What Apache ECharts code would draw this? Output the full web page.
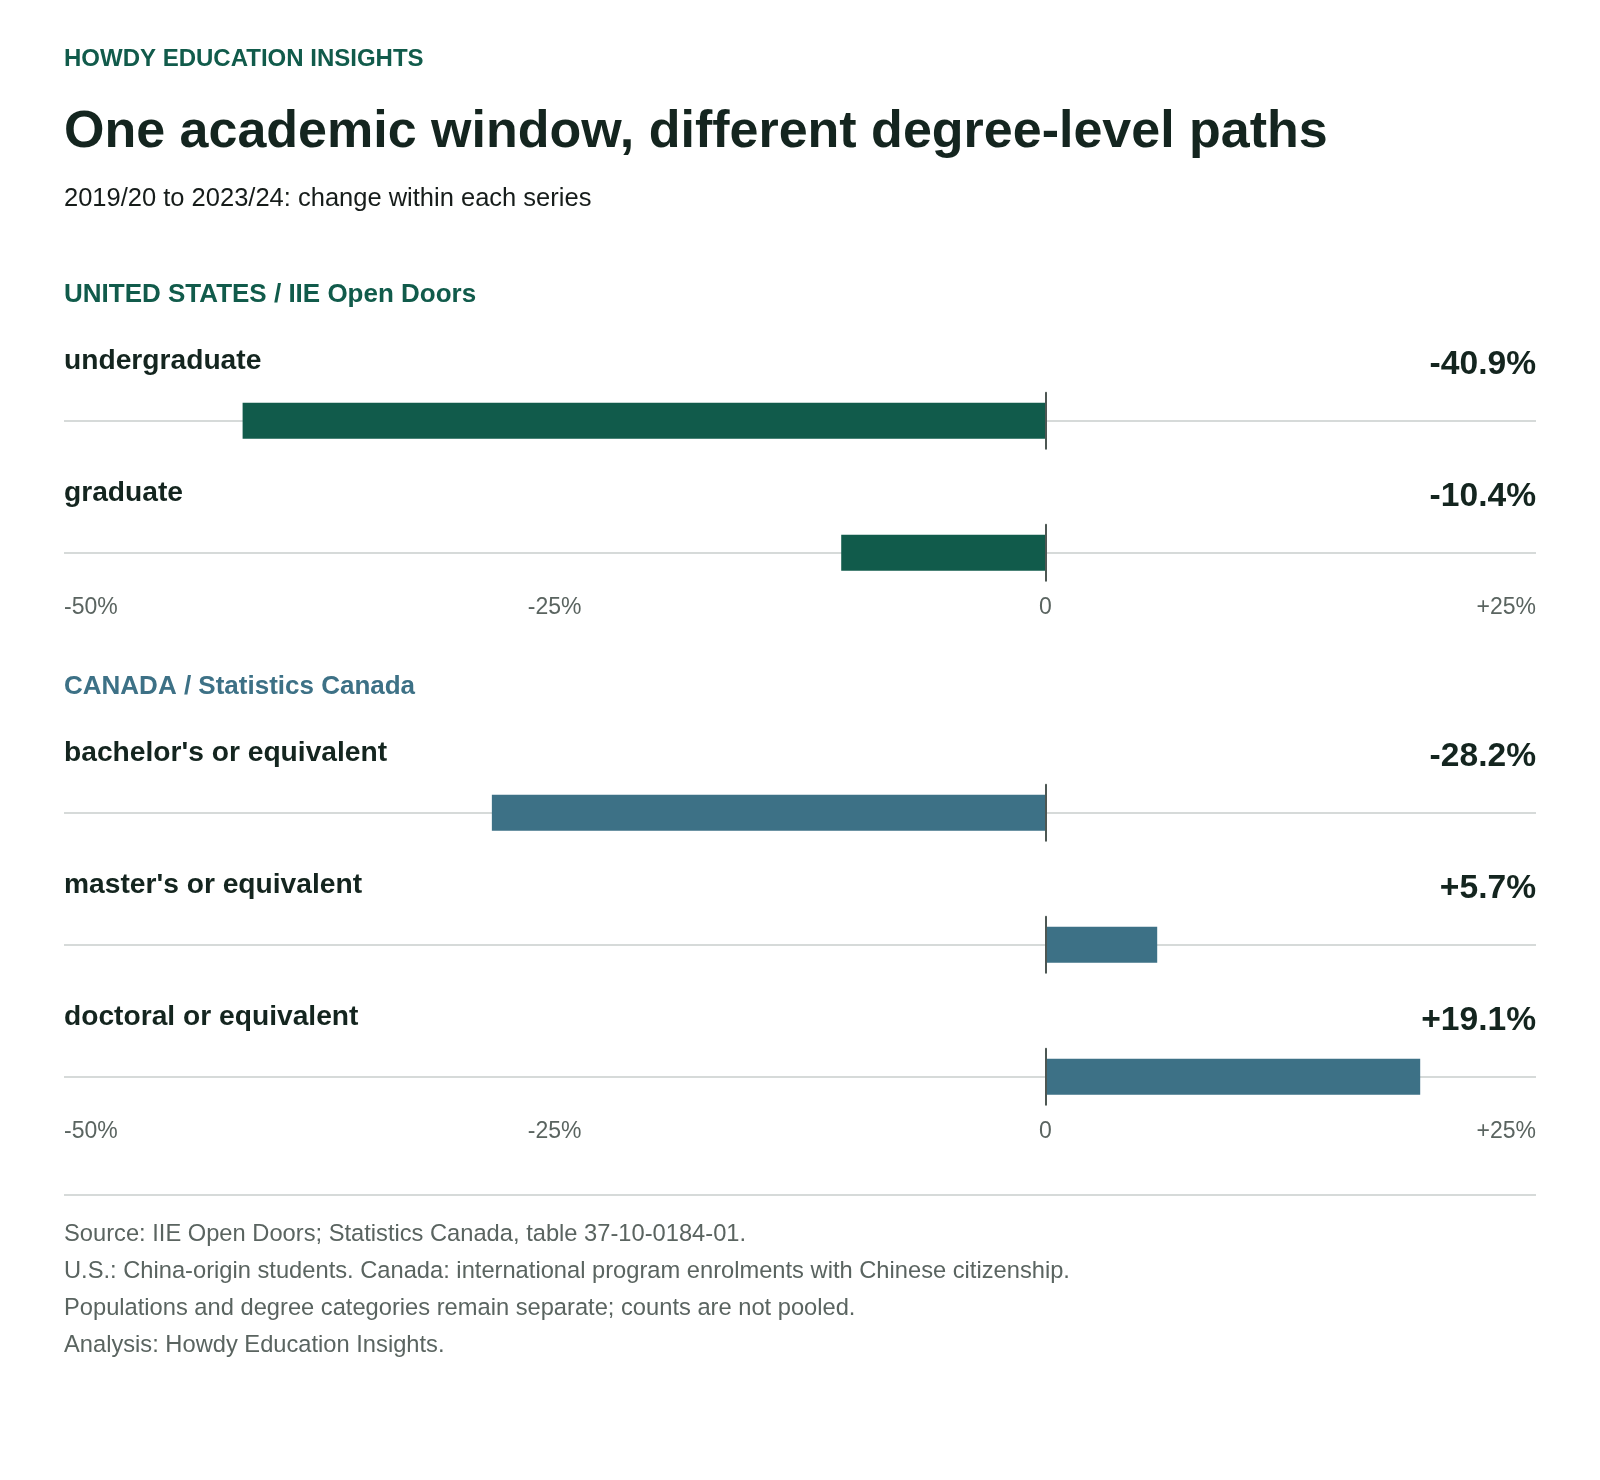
<!DOCTYPE html>
<html>
<head>
<meta charset="utf-8">
<script src="https://cdn.jsdelivr.net/npm/echarts@6/dist/echarts.min.js"></script>
<style>
html,body{margin:0;padding:0;background:#ffffff;}
#chart{width:1600px;height:1480px;}
</style>
</head>
<body>
<div id="chart"></div>
<script>
// ---- data ----
const brandLabel = 'HOWDY EDUCATION INSIGHTS';
const chartTitle = 'One academic window, different degree-level paths';
const chartSubtitle = '2019/20 to 2023/24: change within each series';
const usHeader = 'UNITED STATES / IIE Open Doors';
const usCategories = ['undergraduate', 'graduate'];
const usValues = [-40.9, -10.4];
const caHeader = 'CANADA / Statistics Canada';
const caCategories = ["bachelor's or equivalent", "master's or equivalent", 'doctoral or equivalent'];
const caValues = [-28.2, 5.7, 19.1];
const axisTickValues = [-50, -25, 0, 25];
const footnotes = [
  'Source: IIE Open Doors; Statistics Canada, table 37-10-0184-01.',
  'U.S.: China-origin students. Canada: international program enrolments with Chinese citizenship.',
  'Populations and degree categories remain separate; counts are not pooled.',
  'Analysis: Howdy Education Insights.'
];

// ---- styling / layout ----
const FONT = "'Liberation Sans', Arial, Helvetica, sans-serif";
const GREEN = '#115b4b';
const TEAL = '#3d7186';
const DARK = '#14251f';
const GREY_TEXT = '#5a6460';
const GRID_LINE = '#d6dad9';
const ZERO_LINE = '#4d5753';
const LEFT = 64, RIGHT_X = 1536;
const ROW_GAP = 132;

const sections = [
  { header: usHeader, color: GREEN, cats: usCategories, vals: usValues, headerY: 294.2 },
  { header: caHeader, color: TEAL, cats: caCategories, vals: caValues, headerY: 686.2 }
];

const grids = [], xAxes = [], yAxes = [], series = [];
const graphics = [];

function txt(text, x, y, size, weight, color, align) {
  return {
    type: 'text', x: x, y: y, silent: true,
    style: {
      text: text, fontSize: size, fontWeight: weight, fontFamily: FONT, fill: color,
      align: align || 'left', verticalAlign: 'middle',
      textAlign: align || 'left', textVerticalAlign: 'middle'
    }
  };
}

graphics.push(txt(brandLabel, LEFT, 59.3, 24, 'bold', GREEN));
graphics.push(txt(chartTitle, LEFT, 132.8, 52, 'bold', DARK));
graphics.push(txt(chartSubtitle, LEFT, 199, 25.5, 'normal', '#161c1a'));

const fmtVal = v => (v > 0 ? '+' : '') + v.toFixed(1) + '%';
const fmtTick = v => v === 0 ? '0' : (v > 0 ? '+' : '') + v + '%';

let idx = 0;
sections.forEach(sec => {
  graphics.push(txt(sec.header, LEFT, sec.headerY + 1, 26, 'bold', sec.color));
  const firstLine = sec.headerY + 126.5;
  sec.cats.forEach((cat, r) => {
    const lineY = firstLine + r * ROW_GAP;
    const isLast = r === sec.cats.length - 1;
    graphics.push(txt(cat, LEFT, lineY - 59.5, 28.2, 'bold', DARK));
    graphics.push(txt(fmtVal(sec.vals[r]), RIGHT_X, lineY - 56, 33.6, 'bold', DARK, 'right'));
    grids.push({ left: LEFT, right: 1600 - RIGHT_X, top: lineY - 28, height: 56, outerBoundsMode: 'none', containLabel: false });
    xAxes.push({
      gridIndex: idx, type: 'value',
      min: axisTickValues[0], max: axisTickValues[axisTickValues.length - 1],
      interval: axisTickValues[1] - axisTickValues[0],
      axisLine: { show: false }, axisTick: { show: false }, splitLine: { show: false },
      axisLabel: {
        show: isLast, margin: 15.5, color: GREY_TEXT, fontSize: 23, fontFamily: FONT,
        formatter: fmtTick, alignMinLabel: 'left', alignMaxLabel: 'right',
        showMinLabel: true, showMaxLabel: true, hideOverlap: false
      }
    });
    yAxes.push({
      gridIndex: idx, type: 'category', data: [cat], z: 10,
      axisLine: { show: true, onZero: true, lineStyle: { color: ZERO_LINE, width: 2 } },
      axisTick: { show: false }, axisLabel: { show: false }, splitLine: { show: false }
    });
    series.push({
      type: 'bar', xAxisIndex: idx, yAxisIndex: idx, silent: true,
      data: [sec.vals[r]], barWidth: 36, z: 3,
      itemStyle: { color: sec.color },
      markLine: {
        silent: true, symbol: 'none', z: 1, animation: false,
        label: { show: false },
        lineStyle: { type: 'solid', color: GRID_LINE, width: 2 },
        data: [{ yAxis: cat }]
      }
    });
    idx++;
  });
});

graphics.push({
  type: 'line', silent: true,
  shape: { x1: LEFT, y1: 1195, x2: RIGHT_X, y2: 1195 },
  style: { stroke: GRID_LINE, lineWidth: 2 }
});
footnotes.forEach((f, i) => {
  graphics.push(txt(f, LEFT, 1234.5 + i * 37, 23.7, 'normal', GREY_TEXT));
});

const chart = echarts.init(document.getElementById('chart'), null, { renderer: 'canvas' });
chart.setOption({
  backgroundColor: '#ffffff',
  animation: false,
  grid: grids,
  xAxis: xAxes,
  yAxis: yAxes,
  series: series,
  graphic: graphics
});
</script>
</body>
</html>
